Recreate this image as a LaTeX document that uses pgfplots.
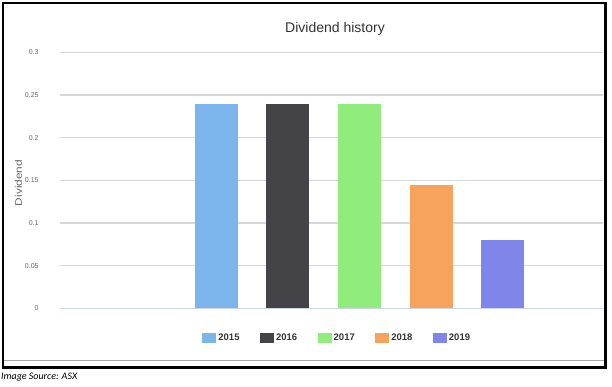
\documentclass[border=0pt]{standalone}
\usepackage{fontspec}
\setmainfont{Liberation Sans}
\newfontfamily\carlito{Carlito}
\usepackage{pgfplots}
\pgfplotsset{compat=1.18}
\definecolor{cA}{HTML}{7CB5EC}
\definecolor{cB}{HTML}{434348}
\definecolor{cC}{HTML}{90ED7D}
\definecolor{cD}{HTML}{F7A35C}
\definecolor{cE}{HTML}{8085E9}
\definecolor{txt}{HTML}{333333}
\definecolor{tick}{HTML}{666666}
\definecolor{gridc}{HTML}{D8D8D8}
\definecolor{zeroc}{HTML}{CCD6EB}
\pgfplotsset{
  mybar/.style={ybar, bar width=0.6, bar shift=0pt, draw=none, fill=#1,
    legend image code/.code={\fill[#1] (0pt,-5pt) rectangle (14pt,5pt);}}
}
\begin{document}
\begin{tikzpicture}[x=1pt,y=1pt]
\useasboundingbox (0,0) rectangle (612,386);
\fill[white] (0,0) rectangle (612,386);
\begin{axis}[
  at={(83.5,91)}, anchor=south west,
  scale only axis, width=543pt, height=256pt,
  xmin=-1.186, xmax=6.398, ymin=0, ymax=0.3,
  xtick=\empty,
  ytick={0.05,0.1,0.15,0.2,0.25,0.3},
  yticklabels={0.05,0.1,0.15,0.2,0.25,0.3},
  extra y ticks={0},
  extra y tick labels={0},
  extra y tick style={grid style={draw=zeroc, line width=1pt}},
  scaled y ticks=false,
  major tick length=0pt,
  axis line style={draw=none},
  ymajorgrids,
  grid style={draw=gridc, line width=1.2pt},
  yticklabel style={inner sep=0pt, xshift=-21pt, font=\fontsize{7}{8}\selectfont, text=tick},
  legend columns=5,
  legend style={at={(0.511,-0.116)}, anchor=center, draw=none,
    font=\bfseries\fontsize{9.5}{11}\selectfont, text=txt,
    /tikz/every even column/.append style={column sep=18.5pt}},
]
\addplot[mybar=cA] coordinates {(1,0.24)};
\addlegendentry{2015}
\addplot[mybar=cB] coordinates {(2,0.24)};
\addlegendentry{2016}
\addplot[mybar=cC] coordinates {(3,0.24)};
\addlegendentry{2017}
\addplot[mybar=cD] coordinates {(4,0.145)};
\addlegendentry{2018}
\addplot[mybar=cE] coordinates {(5,0.08)};
\addlegendentry{2019}
\end{axis}
\node[text=txt, font=\fontsize{14}{16}\selectfont] at (335,357) {Dividend history};
\node[rotate=90, text=tick, font=\fontsize{9.5}{10}\selectfont, xscale=1.25] at (18.5,203) {Dividend};
\draw[gray!70, line width=1pt] (4,25.5) -- (604,25.5);
\draw[line width=2.5pt] (3,383) rectangle (605.5,18.5);
\node[anchor=west, inner sep=0pt, font=\carlito\itshape\fontsize{10}{12}\selectfont] at (1,9) {Image Source: ASX};
\end{tikzpicture}
\end{document}
